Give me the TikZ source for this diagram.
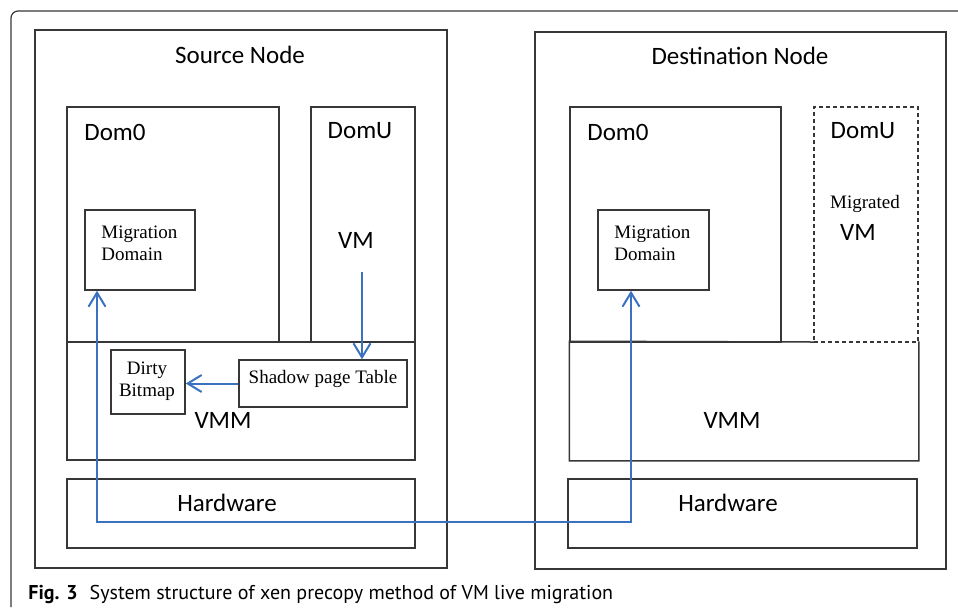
\documentclass[tikz,border=0pt]{standalone}
\usepackage{fontspec}
\setmainfont{Carlito}
\newfontfamily\boxfont{Liberation Serif}
\newfontfamily\capfont{PT Sans}
\usetikzlibrary{arrows.meta}
\definecolor{linegray}{RGB}{55,55,55}
\definecolor{flowblue}{RGB}{58,114,192}
\tikzset{
  box/.style={draw=linegray,line width=0.75pt,inner sep=0pt},
  lbl/.style={font=\fontsize{12.5}{15}\selectfont,inner sep=0pt},
  small/.style={font=\boxfont\fontsize{9.5}{11}\selectfont,inner sep=0pt},
  flow/.style={draw=flowblue,line width=1pt,-{Straight Barb[length=7pt,width=8.5pt]}},
}
\begin{document}
\begin{tikzpicture}[x=0.5pt,y=-0.5pt]
\useasboundingbox (0,0) rectangle (958,607);
% figure frame
\draw[linegray,line width=0.6pt,rounded corners=3.5pt] (11,607) -- (11,11) -- (958,11);
% source node
\node[box,minimum width=206pt,minimum height=269pt] (src) at (241,299) {};
\node[lbl] (srctitle) at (240,55) {Source Node};
\node[box,minimum width=106pt,minimum height=117.5pt] (sdom0) at (173,224.5) {};
\node[box,minimum width=52pt,minimum height=117.5pt] (sdomu) at (363,224.5) {};
\node[lbl,anchor=west] (sdom0lbl) at (84,132) {Dom0};
\node[lbl] (sdomulbl) at (360,131) {DomU};
\node[lbl] (svm) at (356,240) {VM};
\node[box,minimum width=55pt,minimum height=40pt] (smig) at (140,250) {};
\node[small,anchor=west,align=left] (smiglbl) at (101,243) {Migration\\Domain};
\node[box,minimum width=174pt,minimum height=59pt] (svmm) at (241,401) {};
\node[lbl] (svmmlbl) at (223,420) {VMM};
\node[box,minimum width=37pt,minimum height=32pt] (sdirty) at (148,382) {};
\node[small,align=center] (sdirtylbl) at (147,381) {Dirty\\Bitmap};
\node[box,minimum width=84pt,minimum height=23.5pt] (sshadow) at (323,383.5) {};
\node[small] (sshadowlbl) at (323,379) {Shadow page Table};
\node[box,minimum width=174pt,minimum height=34.5pt] (shw) at (241,513.5) {};
\node[lbl] (shwlbl) at (227,503) {Hardware};
% destination node
\node[box,minimum width=205.5pt,minimum height=268.5pt] (dst) at (740.5,300.5) {};
\node[lbl] (dsttitle) at (740,56) {Destination Node};
\node[box,minimum width=105.5pt,minimum height=117.5pt] (ddom0) at (675.5,224.5) {};
\node[lbl,anchor=west] (ddom0lbl) at (587,132) {Dom0};
\node[box,minimum width=174pt,minimum height=59pt,draw=none] (dvmm) at (744,401) {};
\draw[linegray,line width=0.75pt] (814,342) -- (dvmm.north west) -- (dvmm.south west)
  -- (dvmm.south east) -- (dvmm.north east);
\node[box,dash pattern=on 2pt off 1.5pt,minimum width=52pt,minimum height=117.5pt] (ddomu) at (866,224.5) {};
\node[lbl] (ddomulbl) at (863,131) {DomU};
\node[small] (dmigrated) at (865,204) {Migrated};
\node[lbl] (dvm) at (858,232) {VM};
\node[box,minimum width=55.5pt,minimum height=40pt] (dmig) at (653.5,250) {};
\node[small,anchor=west,align=left] (dmiglbl) at (614,243) {Migration\\Domain};
\node[lbl] (dvmmlbl) at (732,420) {VMM};
\node[box,minimum width=174.5pt,minimum height=34.5pt] (dhw) at (742.5,513.5) {};
\node[lbl] (dhwlbl) at (728,503) {Hardware};
% data flow
\coordinate (vmtail) at (362,272);
\coordinate (bend1) at (97,522);
\coordinate (bend2) at (631,522);
\draw[flow] (vmtail) -- (vmtail |- sshadow.north);
\draw[flow] (sshadow.west) -- (sshadow.west -| sdirty.east);
\draw[flow,{Straight Barb[length=7pt,width=8.5pt]}-{Straight Barb[length=7pt,width=8.5pt]}]
  (smig.south -| bend1) -- (bend1) -- (bend2) -- (bend2 |- dmig.south);
% caption
\node[anchor=base west,inner sep=0pt,font=\capfont\fontsize{10}{12}\selectfont] (caption) at (28,599)
  {\textbf{Fig. 3}\hspace{6pt}System structure of xen precopy method of VM live migration};
\end{tikzpicture}
\end{document}
